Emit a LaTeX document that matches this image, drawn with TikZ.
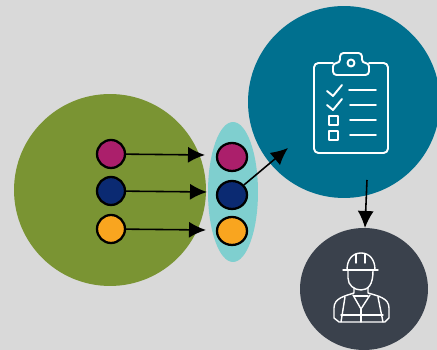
\documentclass[tikz,border=0pt]{standalone}
\usepackage{tikz}
\usetikzlibrary{arrows.meta,calc,positioning,shapes.geometric}

\definecolor{bgGrey}{HTML}{D9D9D9}
\definecolor{oliveGreen}{HTML}{7A9433}
\definecolor{paleTeal}{HTML}{7FCFCF}
\definecolor{deepTeal}{HTML}{00708F}
\definecolor{slateGrey}{HTML}{3A414C}
\definecolor{dotPink}{HTML}{AB1F6B}
\definecolor{dotNavy}{HTML}{0B2A72}
\definecolor{dotAmber}{HTML}{F9A51F}

\tikzset{
  blob/.style={ellipse, draw=none, inner sep=0pt},
  dot/.style={ellipse, draw=black, line width=1.3pt, inner sep=0pt},
  flow/.style={-{Latex[length=0.34cm,width=0.32cm]}, line width=0.9pt, draw=black},
  icon/.style={draw=white, line width=1.1pt, line cap=round, line join=round},
  thinicon/.style={icon, line width=0.8pt}
}

\begin{document}
\begin{tikzpicture}[x=0.02cm, y=-0.02cm]
  \clip (0,0) rectangle (437,350);
  \fill[bgGrey] (0,0) rectangle (437,350);

  % Large discs
  \node[blob, fill=oliveGreen, minimum width=3.84cm, minimum height=3.84cm] (source) at (110,190) {};
  \node[blob, fill=paleTeal, minimum width=1cm, minimum height=2.8cm] (filter) at (233,192) {};
  \node[blob, fill=deepTeal, minimum width=3.84cm, minimum height=3.84cm] (report) at (344,102) {};
  \node[blob, fill=slateGrey, minimum width=2.56cm, minimum height=2.44cm] (worker) at (364,289) {};

  % Left dots
  \node[dot, fill=dotPink, minimum width=0.56cm, minimum height=0.56cm] (inA) at (111,154) {};
  \node[dot, fill=dotNavy, minimum width=0.56cm, minimum height=0.56cm] (inB) at (111,191) {};
  \node[dot, fill=dotAmber, minimum width=0.56cm, minimum height=0.56cm] (inC) at (111,229) {};

  % Right dots
  \node[dot, fill=dotPink, minimum width=0.6cm, minimum height=0.56cm] (outA) at (232,157) {};
  \node[dot, fill=dotNavy, minimum width=0.6cm, minimum height=0.56cm] (outB) at (232,195) {};
  \node[dot, fill=dotAmber, minimum width=0.6cm, minimum height=0.56cm] (outC) at (232,231) {};

  % Arrow ends
  \coordinate (endA) at (205,155);
  \coordinate (endB) at (207,192);
  \coordinate (endC) at (206,230);
  \coordinate (endD) at (288,148);
  \coordinate (startE) at (367,180);
  \coordinate (endE) at (365,228);

  % Arrows
  \draw[flow] (inA) -- (endA);
  \draw[flow] (inB) -- (endB);
  \draw[flow] (inC) -- (endC);
  \draw[flow] (outB) -- (endD);
  \draw[flow] (startE) -- (endE);

  % Clipboard
  \draw[icon, rounded corners=2.5pt] (333,63) -- (314,63) -- (314,153) -- (388,153) -- (388,63) -- (369,63);
  \draw[icon, rounded corners=2pt] (333,63) -- (333,75) -- (369,75) -- (369,63) -- (362,63) -- (362,53) -- (340,53) -- (340,63) -- cycle;
  \draw[icon] (351,63) circle (3.5);
  \draw[icon] (327,91) -- (333,96) -- (342,85);
  \draw[icon] (327,105) -- (333,110) -- (342,99);
  \draw[icon] (329,116) rectangle (338,125);
  \draw[icon] (329,131) rectangle (338,140);
  \draw[icon] (349,90) -- (376,90);
  \draw[icon] (350,105) -- (376,105);
  \draw[icon] (350,120) -- (376,120);
  \draw[icon] (350,135) -- (376,135);

  % Helmet and head
  \draw[thinicon] (343,270) -- (378,270);
  \draw[thinicon] (347,270) .. controls (347,259) and (353,253) .. (361,253) .. controls (369,253) and (375,259) .. (375,270);
  \draw[thinicon] (356,254) -- (356,263);
  \draw[thinicon] (365,254) -- (365,263);
  \draw[thinicon] (348,271) -- (348,278) .. controls (348,285) and (354,290) .. (361,290) .. controls (368,290) and (373,285) .. (373,271);

  % Shoulders and vest
  \draw[thinicon] (354,288) -- (354,293) .. controls (345,296) and (334,298) .. (334,308) -- (334,318) -- (339,322) -- (385,322) -- (389,318) -- (389,308) .. controls (389,298) and (378,296) .. (368,293) -- (368,288);
  \draw[thinicon] (345,297) -- (341,322);
  \draw[thinicon] (378,297) -- (383,322);
  \draw[thinicon] (353,295) -- (361,309) -- (370,295);
  \draw[thinicon] (354,296) -- (368,296);
  \draw[thinicon] (361,309) -- (361,322);
  \draw[thinicon] (341,315) -- (383,315);
\end{tikzpicture}
\end{document}
